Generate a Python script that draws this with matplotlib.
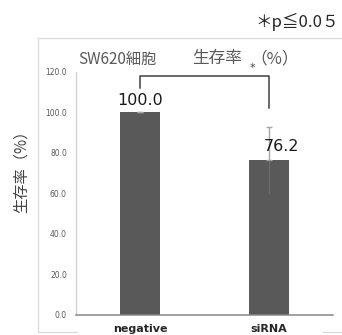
import matplotlib
matplotlib.use("Agg")
import matplotlib.pyplot as plt
from matplotlib.lines import Line2D

plt.rcParams['font.family'] = ['Noto Sans CJK JP', 'DejaVu Sans']

# Data
categories = ["negative", "siRNA"]
survival = [100.0, 76.2]
errors = [0.0, 16.6]
yticks = [0, 20, 40, 60, 80, 100, 120]

W, H = 342, 335
fig = plt.figure(figsize=(W / 100, H / 100), dpi=100)
fig.patch.set_facecolor("white")


def px(x, y):
    """Pixel position (from top-left) to figure fraction."""
    return x / W, 1 - y / H


# Axes placement
ax_l, ax_r, ax_top, ax_bot = 76, 333, 71.7, 314.7
ax = fig.add_axes([ax_l / W, 1 - ax_bot / H, (ax_r - ax_l) / W, (ax_bot - ax_top) / H])

xpos = list(range(len(categories)))
ax.bar(xpos, survival, width=0.31, color="#595959", zorder=2)
# upper whisker with cap above the bar, lower whisker faint inside the bar
ax.errorbar(xpos, survival, yerr=[[0] * len(errors), errors], fmt="none",
            ecolor="#a6a6a6", elinewidth=1.0, capsize=2.5, capthick=1.0, zorder=3)
ax.vlines(xpos, [v - e for v, e in zip(survival, errors)], survival,
          color="#6c6c6c", linewidth=1.0, zorder=3)

ax.set_xlim(-0.5, 1.5)
ax.set_ylim(0, 120)
ax.set_yticks(yticks)
ax.set_yticklabels([f"{v:.1f}" for v in yticks], fontsize=5.5, color="#595959",
                   family="DejaVu Sans")
ax.set_xticks(xpos)
ax.set_xticklabels(categories, fontsize=8, fontweight="bold", color="#262626",
                   family="DejaVu Sans")
ax.tick_params(axis="y", length=0, pad=6.5)
ax.tick_params(axis="x", length=0, pad=6.5)

for s in ("top", "right"):
    ax.spines[s].set_visible(False)
ax.spines["left"].set_color("#d0d0d0")
ax.spines["left"].set_linewidth(0.9)
ax.spines["bottom"].set_color("#868686")
ax.spines["bottom"].set_linewidth(1.1)
ax.spines["bottom"].set_zorder(4)

# Value labels
ax.text(0, 106.0, f"{survival[0]:.1f}", ha="center", va="center",
        fontsize=11.5, color="#1a1a1a", family="DejaVu Sans", clip_on=False)
ax.text(1.1, 83.0, f"{survival[1]:.1f}", ha="center", va="center",
        fontsize=11.5, color="#1a1a1a", family="DejaVu Sans", clip_on=False)

# Significance bracket
ax.plot([0, 0, 1, 1], [111.8, 118.0, 118.0, 102.1], color="#404040",
        linewidth=1.1, clip_on=False, zorder=5)
ax.text(0.874, 122.0, "*", ha="center", va="center", fontsize=8,
        color="#404040", family="DejaVu Sans", clip_on=False)

# Title (set in three pieces) and y label
title_color = "#595959"
fig.text(*px(78, 59), "SW620細胞", ha="left", va="center",
         fontsize=11, color=title_color)
fig.text(*px(217.5, 59), "生存率", ha="center", va="center",
         fontsize=12, color=title_color)
fig.text(*px(275, 59), "（%）", ha="center", va="center",
         fontsize=12, color=title_color)
fig.text(*px(21.5, 168), "生存率（%）", ha="center", va="center",
         rotation=90, fontsize=11, color="#404040")
fig.text(*px(255, 21.7), "＊p≦0.0５", ha="left", va="center",
         fontsize=12, color="#262626")

# Light chart-area border
border = "#d9d9d9"
segments = [
    [(38, 342), (38.3, 38.3)],
    [(38.3, 38.3), (38.3, 331.5)],
    [(38, 77), (331.5, 331.5)],
    [(323, 342), (331.5, 331.5)],
]
for xs, ys in segments:
    fx = [x / W for x in xs]
    fy = [1 - y / H for y in ys]
    fig.add_artist(Line2D(fx, fy, transform=fig.transFigure, color=border,
                          linewidth=0.9))

fig.savefig("out.png", dpi=100)
